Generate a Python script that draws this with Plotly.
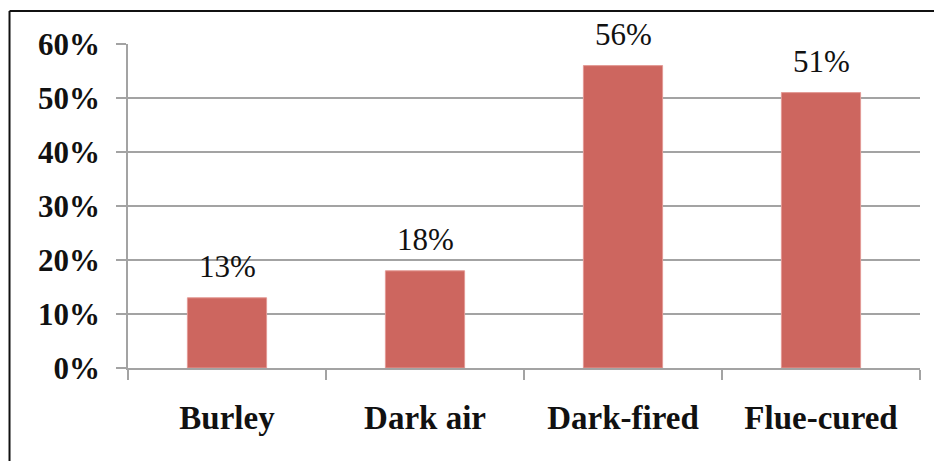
import plotly.graph_objects as go

categories = ["Burley", "Dark air", "Dark-fired", "Flue-cured"]
shares = [13, 18, 56, 51]
y_ticks = [0, 10, 20, 30, 40, 50, 60]
y_tick_labels = [f"{v}%" for v in y_ticks]

bar_color = "#CD665F"
grid_color = "#A3A3A3"
font_family = "Liberation Serif, DejaVu Serif, serif"

fig = go.Figure()
fig.add_trace(go.Bar(
    x=categories,
    y=shares,
    marker=dict(color=bar_color, line=dict(color="#E39A95", width=1)),
    width=0.4,
    hoverinfo="skip",
))

# value labels above the bars
for cat, val in zip(categories, shares):
    fig.add_annotation(
        x=cat, y=val, xref="x", yref="y",
        text=f"{val}%", showarrow=False,
        yanchor="bottom", yshift=12,
        font=dict(family=font_family, size=31, color="#111111"),
    )

# outer frame of the chart (left and top edges)
fig.add_shape(type="line", xref="paper", yref="paper",
              x0=-0.1496, x1=-0.1496, y0=1.102, y1=-0.4,
              line=dict(color="#111111", width=2))
fig.add_shape(type="line", xref="paper", yref="paper",
              x0=-0.1496, x1=1.1, y0=1.102, y1=1.102,
              line=dict(color="#111111", width=2))

fig.update_layout(
    width=934, height=461,
    margin=dict(l=128, r=14, t=44, b=93),
    paper_bgcolor="white", plot_bgcolor="white",
    showlegend=False,
    bargap=0.6,
    xaxis=dict(
        type="category",
        showline=True, linecolor=grid_color, linewidth=1.5,
        ticks="outside", tickson="boundaries", ticklen=10,
        tickcolor=grid_color, tickwidth=1.5,
        showgrid=False,
        tickfont=dict(family=font_family, size=33, color="#111111", weight="bold"),
        ticklabelstandoff=20,
    ),
    yaxis=dict(
        range=[0, 60],
        tickvals=y_ticks, ticktext=y_tick_labels,
        showline=True, linecolor=grid_color, linewidth=1.5,
        ticks="outside", ticklen=10, tickcolor=grid_color, tickwidth=1.5,
        showgrid=True, gridcolor=grid_color, gridwidth=1.5,
        zeroline=False,
        tickfont=dict(family=font_family, size=31, color="#111111", weight="bold"),
        ticklabelstandoff=10,
    ),
)

fig.write_html("out.html")
